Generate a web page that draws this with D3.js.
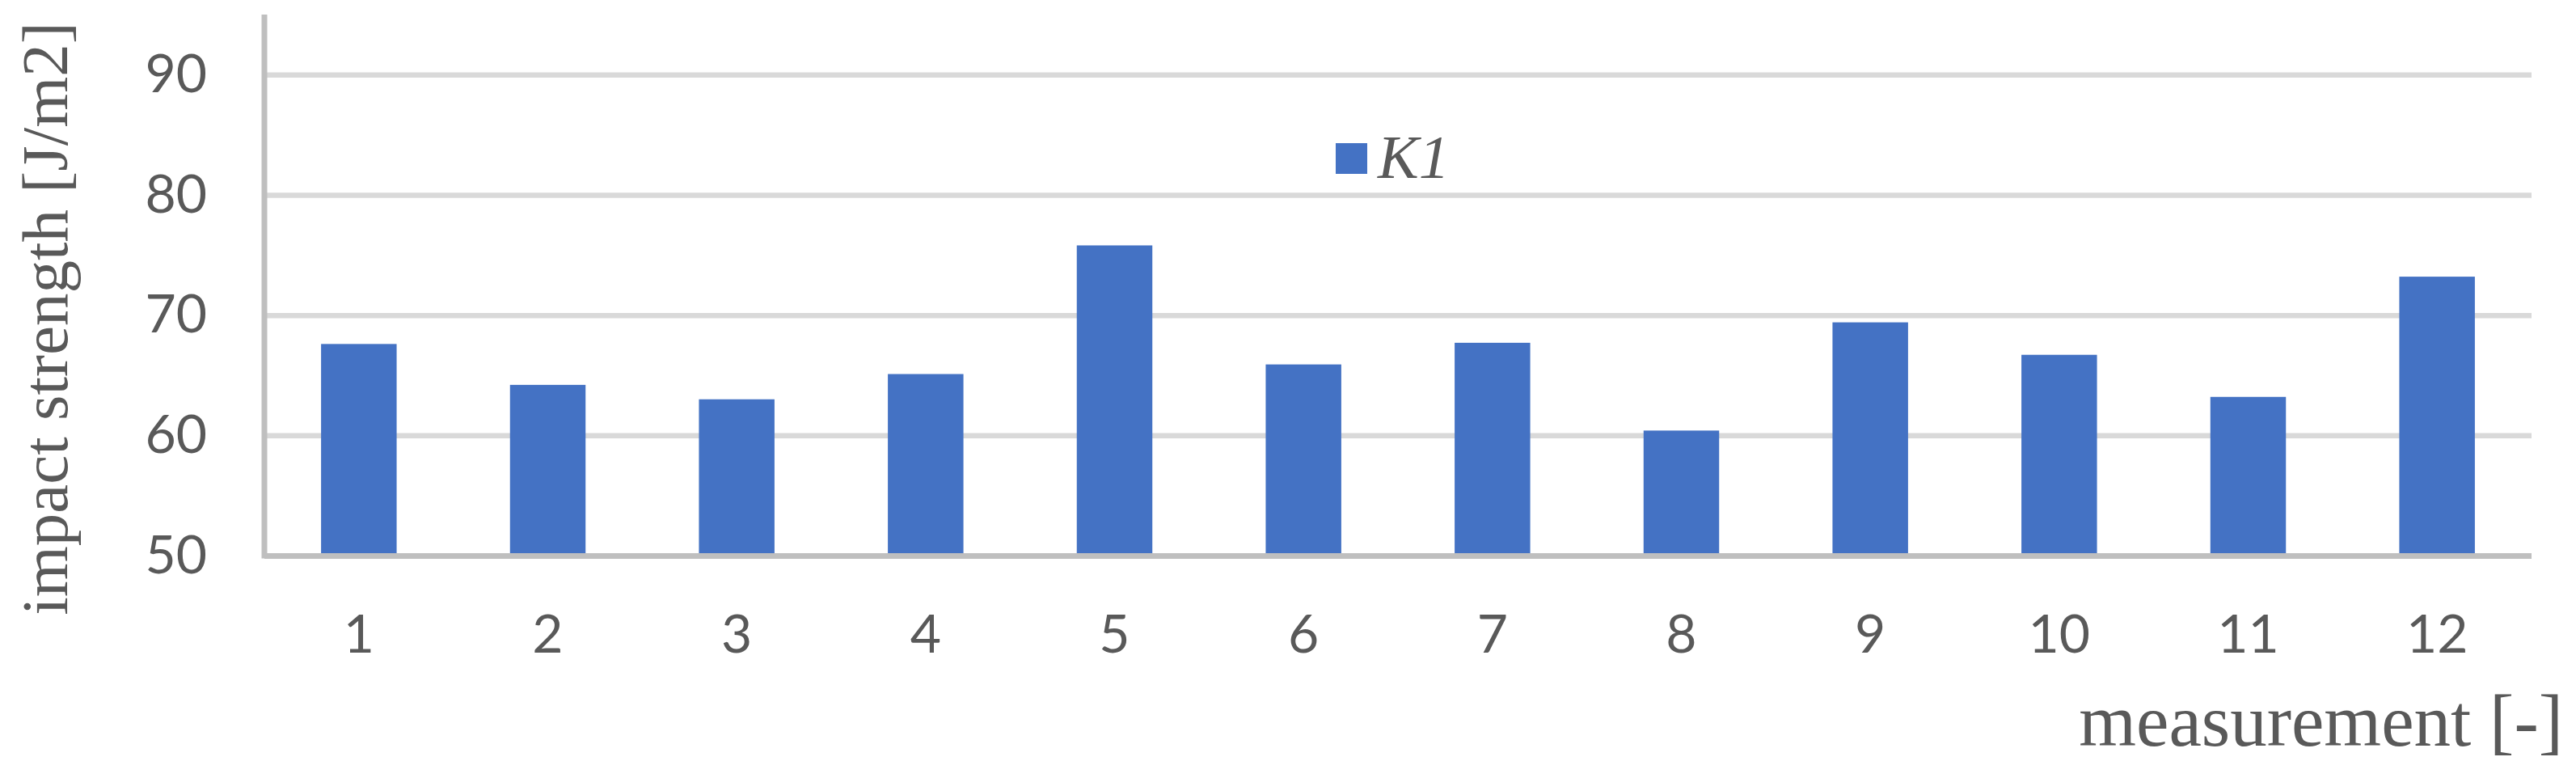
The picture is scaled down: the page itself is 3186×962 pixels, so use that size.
<html><head>
<script src="https://d3js.org/d3.v7.min.js"></script>
<style>
  body { margin: 0; background: #fff; }
  text.tick-label { fill: #595959; font-family: Lato, "Open Sans", sans-serif; }
  text.title { fill: #595959; font-family: "Liberation Serif", "DejaVu Serif", serif; }
</style>
</head>
<body>
<svg id="chart" width="3186" height="962"></svg>
<script>
  // data
  const measurements = ["1","2","3","4","5","6","7","8","9","10","11","12"];
  const k1Values = [67.6, 64.2, 63.0, 65.1, 75.8, 65.9, 67.7, 60.4, 69.4, 66.7, 63.2, 73.2];
  const yTicks = [50, 60, 70, 80, 90];
  const seriesName = "K1";

  const svg = d3.select("#chart");
  const plotLeft = 327, plotRight = 3131, plotTop = 18, plotBottom = 687;

  const x = d3.scaleBand().domain(measurements).range([plotLeft, plotRight])
              .paddingInner(0.6).paddingOuter(0.3);
  const y = d3.scaleLinear().domain([50, 95]).range([plotBottom, plotTop]);

  // gridlines + y labels
  const yAxis = svg.append("g").attr("transform", `translate(${plotLeft},0)`)
     .call(d3.axisLeft(y).tickValues(yTicks).tickSize(-(plotRight - plotLeft)).tickPadding(71));
  yAxis.select(".domain").remove();
  yAxis.selectAll(".tick line").attr("stroke", "#d9d9d9").attr("stroke-width", 6.5);
  yAxis.selectAll(".tick text").attr("class", "tick-label").attr("font-size", 66);

  // bars
  svg.append("g").selectAll("rect").data(k1Values).join("rect")
     .attr("x", (d, i) => x(measurements[i]))
     .attr("y", d => y(d))
     .attr("width", x.bandwidth())
     .attr("height", d => plotBottom - y(d))
     .attr("fill", "#4472c4");

  // axis lines
  svg.append("line").attr("x1", plotLeft).attr("x2", plotLeft).attr("y1", plotTop).attr("y2", plotBottom + 3.5)
     .attr("stroke", "#bfbfbf").attr("stroke-width", 7);
  svg.append("line").attr("x1", plotLeft).attr("x2", plotRight).attr("y1", plotBottom + 0.5).attr("y2", plotBottom + 0.5)
     .attr("stroke", "#bfbfbf").attr("stroke-width", 7);

  // x labels
  const xAxis = svg.append("g").attr("transform", `translate(0,${plotBottom})`)
     .call(d3.axisBottom(x).tickSize(0).tickPadding(73));
  xAxis.select(".domain").remove();
  xAxis.selectAll(".tick text").attr("class", "tick-label").attr("font-size", 66);

  // legend
  const lg = svg.append("g").attr("transform", "translate(1652,177)");
  lg.append("rect").attr("width", 39).attr("height", 38).attr("fill", "#4472c4");
  lg.append("text").attr("class", "title").attr("x", 52).attr("y", 42.5)
    .attr("font-size", 76).attr("font-style", "italic").text(seriesName);

  // axis titles
  svg.append("text").attr("class", "title")
     .attr("transform", "translate(83,394) rotate(-90)")
     .attr("text-anchor", "middle").attr("font-size", 81)
     .text("impact strength [J/m2]");
  svg.append("text").attr("class", "title")
     .attr("x", 3170).attr("y", 922).attr("text-anchor", "end").attr("font-size", 91)
     .text("measurement [-]");
</script>
</body>
</html>
